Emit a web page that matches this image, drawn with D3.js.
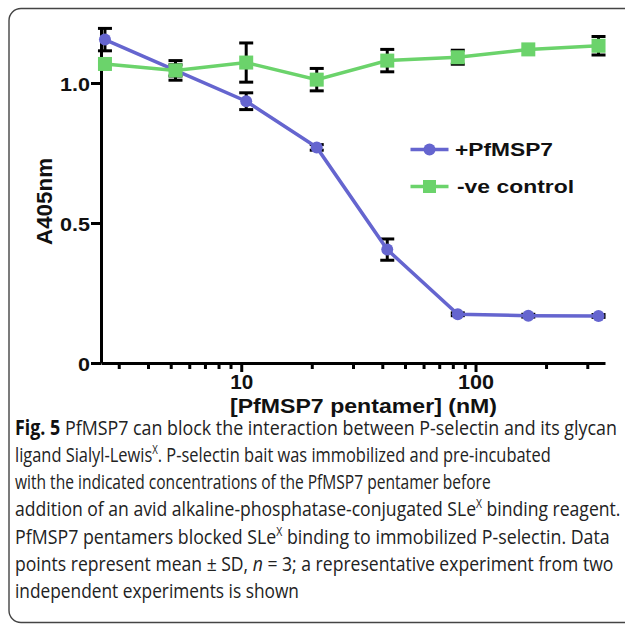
<!DOCTYPE html>
<html>
<head>
<meta charset="utf-8">
<script src="https://cdn.jsdelivr.net/npm/d3@7"></script>
<style>
html,body{margin:0;padding:0;background:#fff;}
svg{display:block;}
</style>
</head>
<body>
<svg id="chart" width="625" height="627"></svg>
<script>
// ---- data ----
const concentrations = [2.62, 5.24, 10.5, 21, 42, 84, 168, 335];
const pfmsp7Mean = [1.155, 1.045, 0.935, 0.770, 0.405, 0.174, 0.169, 0.168];
const pfmsp7SD   = [0.040, 0.020, 0.030, 0.010, 0.038, 0.005, 0.005, 0.005];
const controlMean = [1.068, 1.045, 1.073, 1.012, 1.080, 1.092, 1.120, 1.133];
const controlSD   = [0.000, 0.035, 0.070, 0.040, 0.040, 0.025, 0.000, 0.033];
const seriesNames = ["+PfMSP7", "-ve control"];
const xMajorTicks = [10, 100];
const xMinorTicks = [3, 4, 5, 6, 7, 8, 9, 20, 30, 40, 50, 60, 70, 80, 90, 200, 300];
const yTicks = [0, 0.5, 1.0];
const yTickLabels = ["0", "0.5", "1.0"];
const xTitle = "[PfMSP7 pentamer] (nM)";
const yTitle = "A405nm";
const captionLines = [
  [["Fig. 5", "b"], [" PfMSP7 can block the interaction between P-selectin and its glycan", ""]],
  [["ligand Sialyl-Lewis", ""], ["X", "sup"], [". P-selectin bait was immobilized and pre-incubated", ""]],
  [["with the indicated concentrations of the PfMSP7 pentamer before", ""]],
  [["addition of an avid alkaline-phosphatase-conjugated SLe", ""], ["X", "sup"], [" binding reagent.", ""]],
  [["PfMSP7 pentamers blocked SLe", ""], ["X", "sup"], [" binding to immobilized P-selectin. Data", ""]],
  [["points represent mean \u00b1 SD, ", ""], ["n", "i"], [" = 3; a representative experiment from two", ""]],
  [["independent experiments is shown", ""]]
];
const captionWidths = [602, 536, 476, 606, 595, 599, 284];

// ---- drawing ----
const svg = d3.select("#chart");
const BLUE = "#6565cf", GREEN = "#6bd36b";
const FONT = "'Liberation Sans', Arial, Helvetica, sans-serif";

// frame
svg.append("rect").attr("x", 9).attr("y", 8.5).attr("width", 660).attr("height", 614)
  .attr("rx", 12).attr("fill", "none").attr("stroke", "#444").attr("stroke-width", 1.4);

const x = d3.scaleLog().domain([2.52, 357]).range([101, 605]);
const y = d3.scaleLinear().domain([0, 1.2]).range([363, 27]);

// y axis
const yAxis = svg.append("g").attr("transform", "translate(101,0)")
  .call(d3.axisLeft(y).tickValues(yTicks).tickSize(10).tickSizeOuter(0)
    .tickFormat((d, i) => yTickLabels[i]).tickPadding(1));
yAxis.select(".domain").attr("stroke", "#000").attr("stroke-width", 3);
yAxis.selectAll(".tick line").attr("stroke", "#000").attr("stroke-width", 3);
yAxis.selectAll(".tick text").attr("font-family", FONT).attr("font-weight", "bold")
  .attr("font-size", 19).attr("fill", "#111").attr("dy", "0.4em")
  .attr("textLength", (d, i) => [12, 30, 30][i]).attr("lengthAdjust", "spacingAndGlyphs");

// x axis minor ticks
const xMinor = svg.append("g").attr("transform", "translate(0,363)")
  .call(d3.axisBottom(x).tickValues(xMinorTicks).tickSize(6).tickSizeOuter(0).tickFormat(""));
xMinor.select(".domain").remove();
xMinor.selectAll(".tick line").attr("stroke", "#000").attr("stroke-width", 3);
// x axis major
const xAxis = svg.append("g").attr("transform", "translate(0,363)")
  .call(d3.axisBottom(x).tickValues(xMajorTicks).tickSize(9).tickSizeOuter(0)
    .tickFormat(d3.format("d")).tickPadding(3));
xAxis.select(".domain").attr("stroke", "#000").attr("stroke-width", 3);
xAxis.selectAll(".tick line").attr("stroke", "#000").attr("stroke-width", 3);
xAxis.selectAll(".tick text").attr("font-family", FONT).attr("font-weight", "bold")
  .attr("font-size", 20).attr("fill", "#111")
  .attr("textLength", (d, i) => [23, 36][i]).attr("lengthAdjust", "spacingAndGlyphs");

// axis titles
svg.append("text").attr("x", 363.5).attr("y", 412.5).attr("text-anchor", "middle")
  .attr("font-family", FONT).attr("font-weight", "bold").attr("font-size", 19.5).attr("fill", "#111")
  .attr("textLength", 267).attr("lengthAdjust", "spacingAndGlyphs").text(xTitle);
svg.append("text").attr("transform", "translate(52,201.5) rotate(-90)").attr("text-anchor", "middle")
  .attr("font-family", FONT).attr("font-weight", "bold").attr("font-size", 22).attr("fill", "#111")
  .attr("textLength", 87).attr("lengthAdjust", "spacingAndGlyphs").text(yTitle);

// series
const series = [
  {name: seriesNames[0], mean: pfmsp7Mean, sd: pfmsp7SD, color: BLUE, shape: "circle"},
  {name: seriesNames[1], mean: controlMean, sd: controlSD, color: GREEN, shape: "square"}
];

const errG = svg.append("g");
series.forEach(s => {
  const pts = concentrations.map((c, i) => ({c, m: s.mean[i], sd: s.sd[i]})).filter(p => p.sd > 0);
  const g = errG.selectAll(null).data(pts).enter().append("g")
    .attr("stroke", "#000").attr("stroke-width", 3);
  g.append("line").attr("x1", d => x(d.c)).attr("x2", d => x(d.c))
    .attr("y1", d => y(d.m + d.sd)).attr("y2", d => y(d.m - d.sd));
  g.append("line").attr("x1", d => x(d.c) - 7).attr("x2", d => x(d.c) + 7)
    .attr("y1", d => y(d.m + d.sd)).attr("y2", d => y(d.m + d.sd));
  g.append("line").attr("x1", d => x(d.c) - 7).attr("x2", d => x(d.c) + 7)
    .attr("y1", d => y(d.m - d.sd)).attr("y2", d => y(d.m - d.sd));
});

const line = d3.line().x(d => x(d.c)).y(d => y(d.m));
series.forEach(s => {
  const pts = concentrations.map((c, i) => ({c, m: s.mean[i]}));
  svg.append("path").datum(pts).attr("d", line).attr("fill", "none")
    .attr("stroke", s.color).attr("stroke-width", 3.5);
  if (s.shape === "circle") {
    svg.selectAll(null).data(pts).enter().append("circle")
      .attr("cx", d => x(d.c)).attr("cy", d => y(d.m)).attr("r", 6).attr("fill", s.color);
  } else {
    svg.selectAll(null).data(pts).enter().append("rect")
      .attr("x", d => x(d.c) - 7).attr("y", d => y(d.m) - 7)
      .attr("width", 14).attr("height", 14).attr("fill", s.color);
  }
});

// legend
const legendY = [149.5, 186.5];
const legendLen = [98, 117];
series.forEach((s, i) => {
  const g = svg.append("g");
  g.append("line").attr("x1", 410.5).attr("x2", 448.5).attr("y1", legendY[i]).attr("y2", legendY[i])
    .attr("stroke", s.color).attr("stroke-width", 3.5);
  if (s.shape === "circle") {
    g.append("circle").attr("cx", 429.5).attr("cy", legendY[i]).attr("r", 6).attr("fill", s.color);
  } else {
    g.append("rect").attr("x", 423).attr("y", legendY[i] - 6.5).attr("width", 13).attr("height", 13).attr("fill", s.color);
  }
  g.append("text").attr("x", i === 0 ? 455 : 457).attr("y", legendY[i] + 6.8)
    .attr("font-family", FONT).attr("font-weight", "bold").attr("font-size", 19).attr("fill", "#111")
    .attr("textLength", legendLen[i]).attr("lengthAdjust", "spacingAndGlyphs").text(s.name);
});

// caption: each line horizontally compressed to its measured width
const cap = svg.append("g").attr("font-family", "'Open Sans', 'Noto Sans', sans-serif")
  .attr("font-size", 20.5).attr("fill", "#222");
captionLines.forEach((segs, i) => {
  const g = cap.append("g");
  const t = g.append("text").attr("x", 0).attr("y", 0);
  segs.forEach(([txt, st], k) => {
    const ts = t.append("tspan").text(txt);
    if (st === "b") ts.attr("font-weight", "bold").attr("fill", "#111");
    if (st === "i") ts.attr("font-style", "italic");
    if (st === "sup") ts.attr("font-size", 12).attr("dy", -8);
    else if (k > 0 && segs[k - 1][1] === "sup") ts.attr("dy", 8);
  });
  const natural = t.node().getComputedTextLength();
  const sx = captionWidths[i] / natural;
  g.attr("transform", `translate(15,${434.5 + i * 27.3}) scale(${sx},1)`);
});
</script>
</body>
</html>
